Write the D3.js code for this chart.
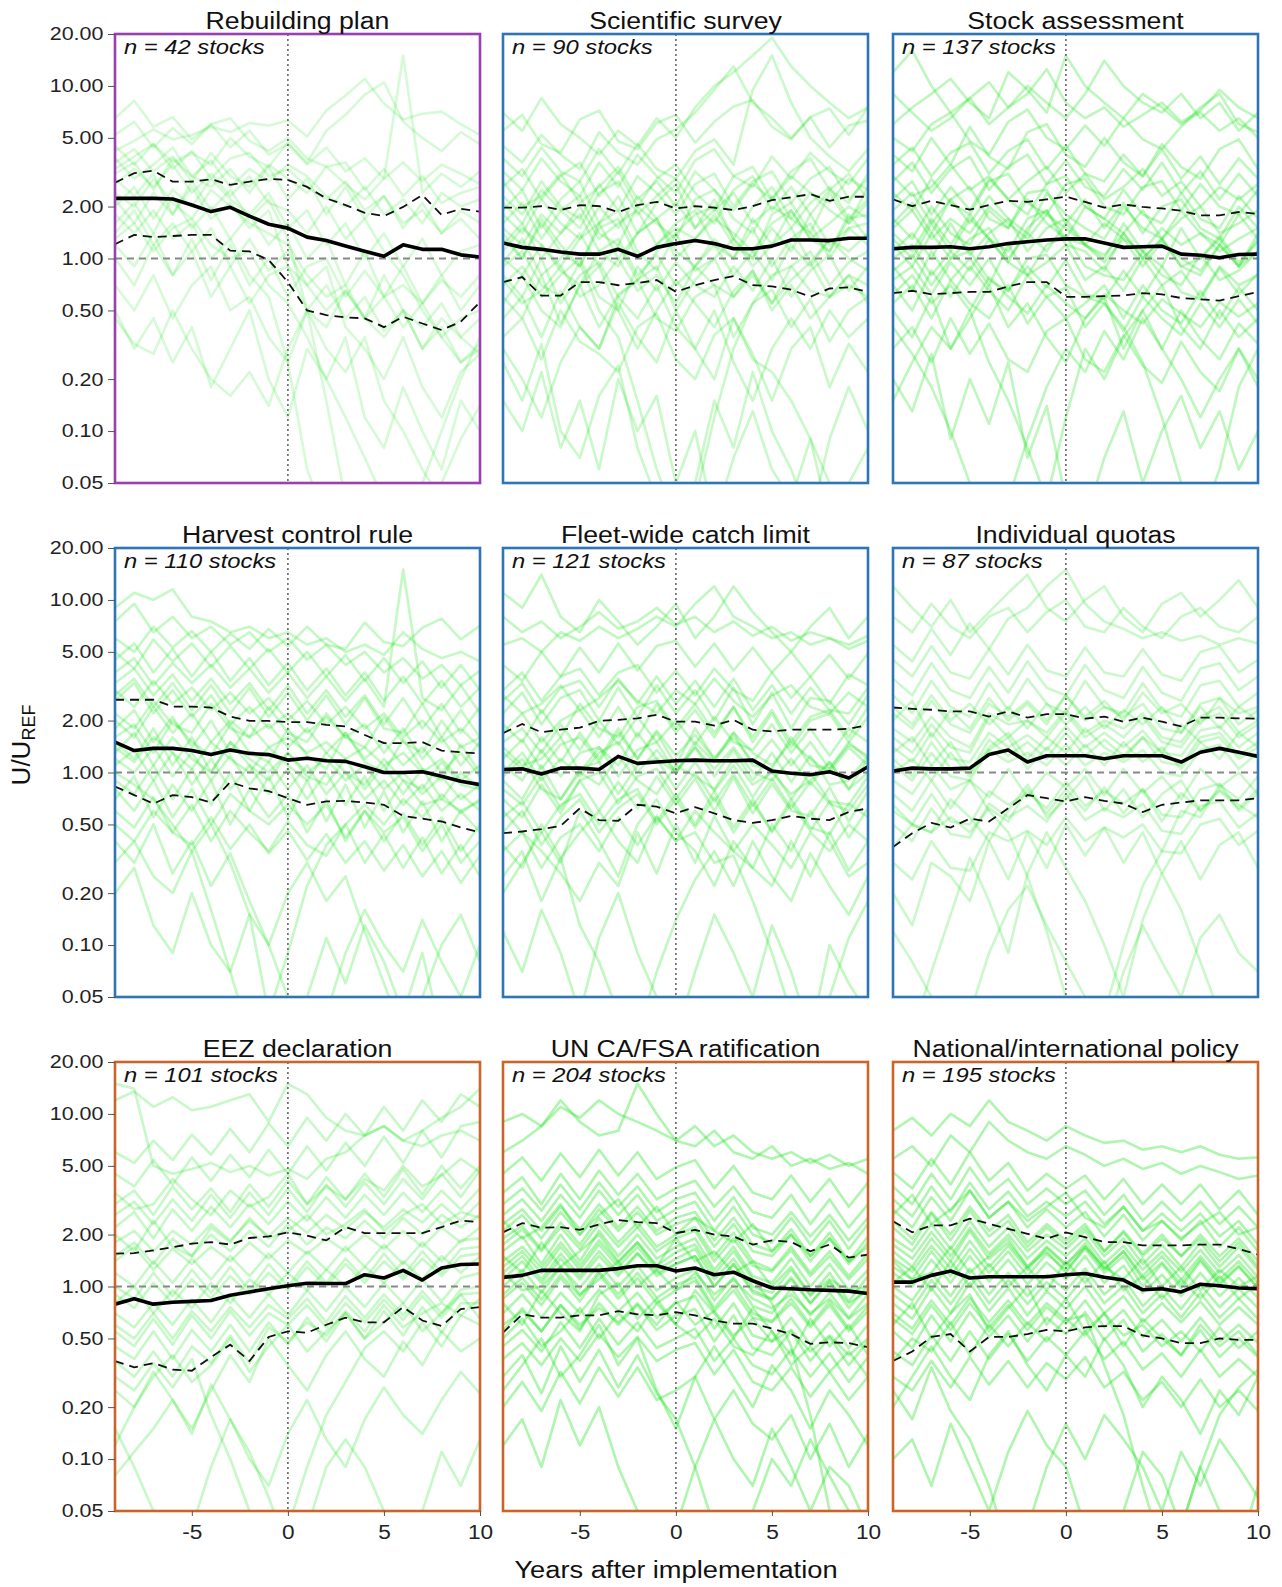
<!DOCTYPE html>
<html>
<head>
<meta charset="utf-8">
<script src="https://cdn.jsdelivr.net/npm/d3@7"></script>
<style>
  body { margin: 0; background: white; }
  text { font-family: "Liberation Sans", Arial, sans-serif; }
</style>
</head>
<body>
<div id="canvas"></div>
<script>

// Years relative to implementation and tick values
const years = [-9, -8, -7, -6, -5, -4, -3, -2, -1, 0, 1, 2, 3, 4, 5, 6, 7, 8, 9, 10];
const yTicks = [0.05, 0.1, 0.2, 0.5, 1, 2, 5, 10, 20];
const xTicks = [-5, 0, 5, 10];

// Panel titles, stock counts and frame colour group
const titles = ["Rebuilding plan", "Scientific survey", "Stock assessment",
  "Harvest control rule", "Fleet-wide catch limit", "Individual quotas",
  "EEZ declaration", "UN CA/FSA ratification", "National/international policy"];
const stockCounts = [42, 90, 137, 110, 121, 87, 101, 204, 195];
const frameGroup = ["purple", "blue", "blue", "blue", "blue", "blue", "orange", "orange", "orange"];

// Median (solid) and quantile (dashed) lines
const rebuildMedian = [2.23,2.23,2.23,2.21,2.04,1.87,1.98,1.76,1.58,1.50,1.33,1.27,1.18,1.10,1.03,1.20,1.13,1.13,1.05,1.02];
const rebuildUpper  = [2.75,3.12,3.23,2.79,2.79,2.88,2.67,2.79,2.89,2.85,2.60,2.23,2.04,1.84,1.76,1.99,2.33,1.79,1.94,1.87];
const rebuildLower  = [1.21,1.37,1.33,1.35,1.37,1.37,1.11,1.10,0.98,0.73,0.50,0.47,0.456,0.45,0.40,0.46,0.42,0.385,0.43,0.56];

const surveyMedian = [1.23,1.16,1.13,1.09,1.06,1.06,1.13,1.03,1.16,1.22,1.27,1.22,1.14,1.14,1.18,1.28,1.28,1.27,1.31,1.31];
const surveyUpper  = [1.97,1.97,2.01,1.91,2.04,2.01,1.86,2.04,2.13,1.95,2.01,1.97,1.91,2.01,2.18,2.26,2.36,2.16,2.28,2.28];
const surveyLower  = [0.73,0.78,0.61,0.61,0.73,0.73,0.70,0.72,0.75,0.64,0.70,0.75,0.79,0.70,0.69,0.66,0.60,0.67,0.68,0.64];

const assessMedian = [1.14,1.16,1.16,1.17,1.14,1.17,1.22,1.25,1.28,1.30,1.30,1.23,1.16,1.17,1.18,1.06,1.045,1.01,1.055,1.06];
const assessUpper  = [2.20,2.01,2.16,2.04,1.92,2.04,2.16,2.13,2.20,2.28,2.13,1.97,2.06,1.99,1.95,1.89,1.78,1.78,1.86,1.81];
const assessLower  = [0.63,0.65,0.62,0.63,0.64,0.64,0.69,0.73,0.73,0.60,0.60,0.605,0.61,0.63,0.62,0.59,0.58,0.57,0.605,0.64];

const hcrMedian = [1.50,1.34,1.38,1.38,1.34,1.27,1.35,1.29,1.27,1.18,1.21,1.17,1.16,1.08,1.00,1.00,1.01,0.95,0.89,0.85];
const hcrUpper  = [2.64,2.64,2.64,2.41,2.41,2.38,2.11,1.99,1.99,1.96,1.96,1.89,1.85,1.65,1.48,1.48,1.50,1.34,1.31,1.29];
const hcrLower  = [0.83,0.74,0.66,0.74,0.72,0.67,0.88,0.81,0.78,0.71,0.65,0.68,0.685,0.67,0.65,0.56,0.54,0.52,0.48,0.45];

const fleetMedian = [1.04,1.05,0.98,1.06,1.06,1.04,1.24,1.13,1.15,1.17,1.18,1.17,1.17,1.18,1.02,0.99,0.97,1.01,0.93,1.08];
const fleetUpper  = [1.69,1.91,1.71,1.77,1.82,1.99,2.02,2.06,2.16,1.97,1.97,1.87,2.02,1.77,1.73,1.77,1.77,1.77,1.79,1.89];
const fleetLower  = [0.445,0.455,0.47,0.49,0.62,0.53,0.525,0.65,0.635,0.58,0.63,0.58,0.53,0.51,0.53,0.56,0.54,0.53,0.59,0.62];

const iqMedian = [1.02,1.06,1.05,1.05,1.06,1.27,1.35,1.15,1.25,1.25,1.25,1.20,1.25,1.25,1.25,1.15,1.31,1.38,1.31,1.24];
const iqUpper  = [2.38,2.34,2.31,2.26,2.26,2.11,2.26,2.08,2.18,2.18,2.05,2.11,1.97,2.08,1.97,1.85,2.08,2.08,2.06,2.05];
const iqLower  = [0.37,0.445,0.51,0.48,0.54,0.52,0.62,0.74,0.71,0.68,0.72,0.685,0.66,0.59,0.65,0.67,0.69,0.69,0.69,0.71];

const eezMedian = [0.79,0.85,0.79,0.81,0.82,0.83,0.89,0.93,0.97,1.01,1.045,1.04,1.04,1.17,1.12,1.24,1.09,1.28,1.34,1.35];
const eezUpper  = [1.55,1.56,1.62,1.69,1.77,1.81,1.75,1.91,1.95,2.06,1.97,1.85,2.21,2.04,2.04,2.04,2.04,2.21,2.41,2.36];
const eezLower  = [0.37,0.34,0.36,0.33,0.325,0.39,0.46,0.37,0.51,0.55,0.54,0.60,0.66,0.62,0.62,0.76,0.635,0.59,0.74,0.76];

const unMedian = [1.13,1.16,1.24,1.24,1.24,1.24,1.27,1.32,1.32,1.23,1.28,1.17,1.21,1.08,0.98,0.97,0.957,0.95,0.94,0.91];
const unUpper  = [2.06,2.33,2.19,2.21,2.13,2.29,2.43,2.36,2.33,2.04,2.13,2.00,1.95,1.75,1.85,1.81,1.60,1.75,1.47,1.53];
const unLower  = [0.54,0.69,0.66,0.66,0.68,0.68,0.72,0.69,0.68,0.71,0.68,0.635,0.61,0.61,0.57,0.53,0.465,0.475,0.47,0.445];

const policyMedian = [1.06,1.06,1.16,1.23,1.12,1.14,1.14,1.14,1.14,1.17,1.19,1.13,1.09,0.957,0.97,0.93,1.03,1.01,0.98,0.97];
const policyUpper  = [2.39,2.06,2.26,2.26,2.47,2.31,2.16,2.02,1.89,2.06,1.93,1.81,1.81,1.73,1.73,1.73,1.75,1.75,1.65,1.53];
const policyLower  = [0.37,0.42,0.51,0.53,0.42,0.51,0.51,0.53,0.56,0.55,0.58,0.59,0.59,0.52,0.50,0.47,0.47,0.50,0.49,0.49];

// Individual stock trajectories (faint green), estimated by eye, one string per stock
const rebuildStocks = [
  "4.2 4.8 5.6 4.9 5.2 5.8 5.4 6.1 5.9 6.3 5.1 7.2 8.8 11 7.9 6.4 6.9 7.1 6.0 5.2",
  "3.1 3.6 2.5 3.8 3.0 2.6 3.3 2.4 3.4 2.2 2.9 1.8 2.6 1.7 2.3 1.5 2.1 1.4 1.9 1.6",
  "2.4 2.0 2.9 2.1 1.7 2.5 2.0 1.6 1.4 1.2 0.8 0.6 0.7 0.45 0.6 0.4 0.55 0.35 0.45 0.5",
  "1.8 1.4 1.9 1.3 1.6 1.0 1.3 0.8 0.6 0.25 0.06 0.03 0.03 0.03 0.03 0.03 0.03 0.03 0.03 0.03",
  "0.5 0.3 0.45 0.25 0.4 0.18 0.3 0.5 0.2 0.12 0.3 0.2 0.35 0.12 0.08 0.18 0.1 0.06 0.15 0.1",
  "3.6 4.3 3.2 3.9 2.8 4.1 3.0 2.6 3.5 2.9 2.4 3.4 2.7 2.2 2.9 15 2.4 3.1 2.6 3.2",
  "2.0 2.6 1.7 2.5 2.0 2.9 2.2 1.8 2.4 1.5 1.9 1.2 1.6 1.0 1.4 0.9 1.3 0.8 1.1 1.2",
  "1.0 0.7 1.2 0.8 1.1 0.6 0.9 0.55 0.8 0.9 0.5 0.4 0.65 0.45 0.35 0.5 0.4 0.55 0.35 0.45",
  "6.5 8.2 5.8 6.6 4.9 6.0 4.4 5.5 4.0 4.6 3.5 4.4 3.2 3.8 2.9 3.6 2.8 3.5 3.1 2.7",
  "2.7 3.3 2.6 3.5 2.4 3.1 2.3 3.0 2.1 1.9 1.4 2.0 1.3 1.7 1.1 0.8 0.5 0.35 0.25 0.3",
  "1.3 1.6 1.1 1.5 1.7 1.2 1.0 1.1 0.7 0.55 0.35 0.2 0.12 0.07 0.04 0.03 0.03 0.05 0.09 0.14",
  "4.5 3.5 4.6 3.3 4.2 2.9 3.8 4.1 3.0 3.3 2.6 2.2 2.8 1.9 2.3 1.6 1.9 1.4 1.7 1.3",
  "1.6 2.1 1.4 2.3 1.5 2.0 1.3 1.8 1.2 1.6 1.0 1.3 0.7 1.1 0.6 0.9 0.55 0.8 0.5 0.7",
  "2.9 2.3 3.1 1.8 2.6 1.7 2.1 1.5 1.9 0.9 0.7 0.9 0.4 0.3 0.2 0.35 0.18 0.12 0.22 0.28",
  "0.7 0.5 0.8 0.45 0.7 0.9 0.5 0.6 0.35 0.25 0.5 0.3 0.22 0.35 0.15 0.1 0.06 0.04 0.03 0.03",
  "3.3 3.9 4.6 3.6 4.1 3.5 5.0 3.9 3.4 4.7 3.6 5.5 6.8 8.9 10.5 6.2 5.0 4.2 5.4 4.6",
  "1.2 0.9 1.4 0.8 1.3 0.75 1.2 0.7 1.0 0.6 0.9 1.0 0.6 0.85 0.6 0.7 0.55 0.75 0.6 0.8",
  "5.2 6.2 4.4 5.7 4.6 6.0 6.5 4.8 4.2 5.0 3.8 3.4 3.6 2.5 3.3 2.3 3.0 2.1 2.4 2.6",
  "0.45 0.32 0.28 0.5 0.3 0.2 0.16 0.22 0.14 0.3 0.5 0.7 0.45 0.6 0.38 0.5 0.3 0.45 0.35 0.28",
  "2.2 1.6 2.4 1.8 2.8 1.9 2.5 1.7 2.2 1.3 0.5 0.15 0.04 0.03 0.03 0.03 0.05 0.1 0.2 0.35",
  "3.8 2.9 3.5 4.4 3.0 3.7 2.6 3.3 2.8 3.5 3.0 2.3 2.0 2.6 1.8 2.2 1.6 2.4 2.0 2.2",
  "1.4 1.9 1.2 1.6 1.1 1.5 0.9 1.3 0.85 1.1 0.7 0.5 0.65 0.45 0.8 0.5 0.3 0.4 0.25 0.32"
];

const surveyStocks = [
  "1.2 1.6 1.0 1.4 1.8 1.1 0.9 1.4 1.7 1.0 1.3 1.8 1.2 1.0 1.5 1.1 1.8 1.2 1.5 1.6",
  "2.1 1.6 2.5 1.9 1.5 2.4 2.8 1.8 2.3 2.9 2.0 1.6 2.5 3.0 1.9 2.6 1.8 2.5 3.1 2.2",
  "0.8 0.6 1.0 0.55 0.8 0.95 0.6 0.75 0.9 0.5 0.75 1.0 0.6 0.8 0.55 0.9 0.65 0.6 0.8 0.7",
  "3.2 2.5 3.8 2.8 2.3 3.6 2.6 4.0 3.0 2.4 3.7 4.3 3.0 2.6 3.9 2.9 4.1 3.2 2.7 3.8",
  "0.45 0.6 0.35 0.65 0.4 0.3 0.55 0.35 0.25 0.5 0.3 0.2 0.45 0.28 0.15 0.3 0.4 0.18 0.32 0.22",
  "1.6 2.1 1.3 1.9 2.3 1.4 1.2 2.0 1.6 1.3 2.2 2.5 1.7 1.4 2.3 1.5 2.1 2.6 1.7 2.2",
  "1.0 0.8 1.2 0.85 0.7 1.1 1.3 0.8 1.05 0.7 0.9 1.2 0.8 1.1 0.75 1.2 0.9 1.3 1.0 0.85",
  "4.5 3.6 5.2 4.0 3.3 5.4 4.1 3.5 4.9 5.6 7.0 9.5 13 8.0 6.5 5.0 6.6 4.4 5.9 6.3",
  "0.25 0.15 0.32 0.1 0.07 0.16 0.24 0.08 0.04 0.03 0.05 0.15 0.08 0.22 0.1 0.06 0.03 0.09 0.18 0.1",
  "2.6 3.3 2.2 3.0 3.6 2.3 3.2 2.0 2.9 3.5 2.4 1.9 3.0 3.4 2.2 3.2 3.8 2.5 2.1 3.1",
  "1.4 1.0 1.7 1.2 0.9 1.6 1.9 1.1 0.85 1.4 1.8 2.0 1.3 1.0 1.8 2.1 1.4 1.1 1.8 1.3",
  "0.6 0.45 0.8 0.42 0.7 0.4 0.62 0.75 0.45 0.38 0.6 0.7 0.35 0.55 0.66 0.4 0.58 0.33 0.5 0.6",
  "5.5 6.8 4.6 4.1 6.4 7.2 4.8 4.3 6.1 6.8 4.7 6.2 7.6 8.3 5.8 4.9 6.6 7.4 5.2 7.5",
  "1.9 2.5 1.5 2.2 2.8 1.6 2.3 1.4 2.1 2.7 1.5 2.2 1.3 2.0 2.6 1.7 1.4 2.4 1.6 2.6",
  "0.9 1.1 0.7 0.6 0.95 0.5 0.35 0.15 0.06 0.03 0.04 0.12 0.3 0.55 0.8 0.9 1.1 0.7 0.95 1.1",
  "1.1 1.5 1.2 0.9 1.3 1.6 1.0 1.4 1.7 1.1 0.9 1.3 1.0 1.5 0.9 1.3 1.6 1.0 1.5 1.2",
  "3.8 3.0 4.4 3.2 2.8 4.3 3.1 4.6 3.3 2.9 4.2 4.9 3.5 9.5 15 8.0 5.0 3.9 3.2 4.3",
  "0.35 0.45 0.26 0.5 0.33 0.28 0.22 0.4 0.48 0.26 0.2 0.36 0.45 0.26 0.22 0.15 0.09 0.05 0.03 0.03",
  "2.3 1.8 2.8 2.0 1.7 2.7 1.9 3.0 2.4 1.8 2.7 3.1 2.0 2.8 3.2 2.1 2.9 3.4 2.2 2.9",
  "0.7 0.9 0.6 0.8 1.0 0.6 0.5 0.9 0.65 0.95 0.7 0.6 0.9 0.65 1.0 0.6 0.85 1.05 0.65 0.9",
  "1.3 1.0 1.6 1.1 0.9 1.5 1.7 1.0 1.2 1.6 1.9 1.2 1.0 1.7 1.2 1.9 1.3 1.1 1.7 1.8",
  "0.15 0.1 0.22 0.08 0.15 0.06 0.2 0.1 0.16 0.05 0.1 0.03 0.07 0.13 0.06 0.04 0.09 0.03 0.05 0.08",
  "1.5 1.2 1.8 1.4 2.0 1.3 1.6 1.9 1.2 1.5 1.3 1.7 1.4 1.1 1.6 1.9 1.3 1.6 2.0 1.7",
  "0.55 0.8 0.5 0.4 0.7 0.9 0.5 0.3 0.5 0.75 0.55 0.4 0.65 0.85 0.5 0.7 0.45 0.6 0.8 0.55",
  "2.8 2.0 2.3 3.1 2.1 2.6 3.4 2.2 2.8 2.0 3.2 2.5 1.9 2.7 2.2 3.0 2.4 2.1 2.9 2.5",
  "0.95 1.3 0.8 1.0 1.4 0.9 1.2 0.75 1.1 1.4 0.85 1.0 1.3 0.9 1.2 1.5 0.95 1.3 1.1 1.4",
  "0.3 0.2 0.12 0.25 0.4 0.3 0.6 0.45 0.7 0.4 0.3 0.5 0.25 0.15 0.3 0.45 0.3 0.5 0.35 0.45",
  "1.8 1.4 2.2 1.6 1.3 2.0 1.5 2.3 1.7 2.1 1.5 1.9 2.4 1.6 2.0 1.7 2.4 1.9 1.6 2.1",
  "7.0 5.5 8.5 6.0 5.0 4.0 5.5 4.5 6.5 5.0 7.5 10 12 15 19 13 10 8.0 6.5 7.5",
  "0.75 0.55 0.65 0.9 0.6 0.7 1.0 0.65 0.8 0.55 0.9 0.7 0.6 0.85 0.55 0.75 0.95 0.6 0.7 0.6"
];

const assessStocks = [
  "1.3 1.0 1.6 1.1 1.7 1.3 0.95 1.5 1.9 1.2 1.1 0.85 1.4 1.0 1.3 0.9 0.8 1.2 0.9 1.3",
  "2.2 2.8 1.8 2.6 1.9 2.9 2.2 1.8 2.7 3.0 2.0 1.7 2.5 1.8 1.6 2.4 1.7 1.5 2.3 1.7",
  "0.7 0.5 0.85 0.6 0.9 0.65 0.5 0.8 0.6 0.45 0.55 0.7 0.45 0.7 0.5 0.42 0.65 0.45 0.68 0.5",
  "4.0 3.2 5.0 3.5 5.8 3.9 3.3 5.4 6.0 4.0 3.4 5.0 3.6 3.0 4.6 3.4 2.9 4.3 4.9 3.3",
  "0.4 0.28 0.18 0.1 0.05 0.03 0.04 0.09 0.18 0.3 0.22 0.38 0.26 0.45 0.3 0.5 0.34 0.26 0.42 0.32",
  "1.6 2.1 1.4 2.2 1.6 2.3 1.7 1.4 2.4 1.8 1.5 1.3 2.0 1.5 1.3 1.9 1.4 1.2 1.8 1.3",
  "1.0 1.2 0.8 1.1 0.85 1.3 0.95 0.8 1.2 1.35 0.9 0.8 0.75 1.1 0.8 0.7 1.05 0.75 0.85 1.1",
  "6.0 7.5 9.0 11 8.0 6.5 12 9.5 7.0 15 10 8.0 6.5 9.0 7.5 6.0 7.0 5.5 6.5 5.0",
  "0.2 0.13 0.28 0.09 0.2 0.11 0.25 0.07 0.14 0.04 0.03 0.07 0.13 0.05 0.1 0.16 0.08 0.13 0.06 0.1",
  "2.8 3.6 2.4 3.3 3.9 2.5 3.4 4.0 2.7 3.7 2.6 2.3 3.3 2.5 3.6 2.4 3.2 2.2 3.1 2.3",
  "1.4 1.1 1.7 1.2 1.8 1.3 1.1 1.7 1.9 1.3 1.2 1.0 1.6 1.1 0.9 1.5 1.0 1.3 0.9 1.4",
  "0.55 0.7 0.45 0.75 0.55 0.45 0.7 0.42 0.6 0.68 0.4 0.55 0.38 0.6 0.45 0.36 0.55 0.4 0.58 0.42",
  "3.5 4.4 3.0 4.1 4.7 3.1 4.2 4.9 3.3 4.5 3.1 2.8 4.0 3.0 4.3 2.9 3.9 2.7 3.8 2.9",
  "1.9 2.4 1.6 2.2 2.6 1.7 1.5 2.4 2.5 1.6 2.2 1.5 2.1 1.4 2.0 2.2 1.5 1.3 2.0 1.5",
  "0.85 1.05 0.7 1.0 1.1 0.75 0.65 1.0 1.05 0.7 0.6 0.55 0.4 0.25 0.12 0.05 0.03 0.06 0.18 0.3",
  "1.2 0.9 1.4 1.0 1.3 1.5 1.0 1.4 1.1 1.6 1.2 0.95 1.3 0.9 1.25 1.0 0.85 1.2 0.9 1.1",
  "5.0 4.2 6.0 7.0 4.8 4.0 6.2 7.3 5.0 4.3 5.9 4.5 6.5 4.9 4.3 5.8 7.5 9.0 6.0 5.4",
  "0.3 0.4 0.25 0.45 0.28 0.42 0.26 0.22 0.38 0.45 0.26 0.22 0.36 0.24 0.19 0.33 0.22 0.17 0.3 0.2",
  "2.4 1.9 2.9 2.1 1.8 2.8 3.1 2.1 1.8 2.7 2.9 2.0 1.8 2.6 2.8 1.9 2.7 2.0 1.8 2.5",
  "0.75 0.9 0.62 0.95 0.7 1.0 0.65 0.9 0.68 0.98 0.62 0.58 0.85 0.6 0.9 0.64 0.58 0.88 0.62 0.82",
  "1.1 1.4 1.0 1.6 1.05 1.4 1.7 1.1 1.5 1.7 1.2 1.05 1.4 1.0 1.3 0.9 1.0 1.35 0.95 1.25",
  "9.0 7.0 5.5 6.5 8.5 10.5 7.5 9.0 12.5 8.0 6.5 7.5 5.8 6.8 8.0 6.2 7.2 9.5 7.5 6.5",
  "1.7 1.3 2.0 1.4 1.2 1.9 1.5 2.2 1.6 1.3 2.0 1.7 1.4 1.9 1.3 1.7 2.0 1.4 1.6 1.9",
  "0.5 0.35 0.6 0.3 0.45 0.7 0.4 0.55 0.35 0.25 0.45 0.6 0.3 0.5 0.7 0.4 0.3 0.5 0.35 0.45",
  "3.0 2.3 2.6 3.5 2.5 3.0 2.2 2.8 3.4 2.4 3.1 2.2 2.6 3.3 2.3 2.8 2.0 2.6 2.2 2.7",
  "0.9 0.65 1.1 0.75 1.0 0.7 1.2 0.8 0.95 1.2 0.75 0.9 0.65 1.0 0.7 0.85 0.6 0.9 0.7 0.8",
  "12 16 10 7.0 8.5 6.0 7.5 10 8.0 6.5 9.0 14 10 8.0 7.0 9.0 6.5 8.0 5.5 7.0",
  "0.15 0.25 0.4 0.3 0.5 0.25 0.15 0.08 0.04 0.12 0.3 0.2 0.35 0.5 0.3 0.2 0.12 0.2 0.3 0.18",
  "1.5 1.9 1.3 1.7 1.4 2.0 1.6 1.3 1.8 1.5 1.2 1.6 1.3 1.1 1.5 1.2 1.4 1.1 1.3 1.5",
  "0.62 0.8 0.55 0.7 0.5 0.78 0.6 0.48 0.7 0.55 0.45 0.62 0.5 0.42 0.58 0.48 0.4 0.56 0.46 0.55"
];

const hcrStocks = [
  "1.5 1.2 1.8 1.1 1.6 1.0 1.5 1.2 1.0 1.3 1.0 1.2 0.9 1.1 0.8 1.0 0.75 0.95 0.7 0.85",
  "2.6 3.3 2.2 3.0 2.1 2.8 1.9 2.4 1.8 2.2 1.7 2.1 1.6 1.9 1.3 1.8 1.2 1.6 1.1 1.5",
  "0.8 0.6 0.9 0.55 0.8 0.5 0.75 0.6 0.5 0.65 0.5 0.65 0.42 0.6 0.4 0.58 0.38 0.55 0.35 0.5",
  "4.5 5.6 3.8 5.2 3.6 5.0 3.4 4.6 3.2 4.3 3.0 4.0 2.8 3.8 2.6 3.6 2.5 3.4 2.4 3.1",
  "9.0 11 10 11.5 8.0 7.5 6.5 7.0 6.0 6.5 5.5 6.0 5.0 5.5 4.8 6.5 5.2 4.6 5.0 4.4",
  "1.8 2.3 1.5 2.1 1.4 2.0 1.3 1.9 1.4 1.6 1.3 1.5 1.2 1.4 1.1 1.3 1.0 1.2 0.9 1.1",
  "0.4 0.3 0.5 0.26 0.4 0.22 0.34 0.18 0.1 0.05 0.03 0.04 0.09 0.16 0.1 0.07 0.14 0.08 0.05 0.03",
  "3.3 4.0 2.8 3.7 2.6 3.5 2.5 3.3 2.3 3.2 2.2 3.0 2.1 2.8 1.9 2.7 1.8 2.5 1.7 2.4",
  "1.1 1.35 0.9 1.3 0.85 1.2 0.8 1.1 0.75 1.05 0.7 1.0 0.65 0.95 0.6 0.9 0.65 0.7 0.6 0.68",
  "6.0 5.0 7.0 5.3 6.6 5.0 6.4 5.2 6.8 5.4 7.0 5.5 5.2 7.4 5.7 5.4 6.9 7.8 5.9 7.1",
  "2.2 1.8 2.6 1.9 1.7 2.5 1.8 1.6 2.4 1.7 1.5 2.2 1.6 1.4 2.1 1.5 1.3 2.0 1.4 1.6",
  "0.6 0.48 0.72 0.45 0.65 0.4 0.6 0.45 0.35 0.52 0.38 0.33 0.5 0.3 0.44 0.28 0.42 0.26 0.38 0.25",
  "1.3 1.7 1.1 1.6 1.2 1.0 1.5 1.1 0.9 1.3 0.95 0.85 1.2 0.8 1.1 0.75 1.05 0.7 1.0 0.8",
  "0.2 0.28 0.13 0.09 0.2 0.1 0.07 0.15 0.04 0.03 0.05 0.11 0.06 0.13 0.08 0.04 0.09 0.03 0.05 0.1",
  "3.8 4.6 3.2 4.3 3.3 4.2 3.1 4.0 2.9 3.8 2.7 3.6 2.6 3.5 2.4 15 2.7 2.3 3.2 2.2",
  "1.6 1.9 1.3 2.0 1.5 1.25 1.9 1.3 1.15 1.8 1.25 1.05 1.7 1.15 1.0 1.55 1.05 0.9 1.45 1.0",
  "0.9 0.75 1.1 0.7 1.05 0.65 1.0 0.6 0.95 0.55 0.9 0.52 0.85 0.48 0.78 0.45 0.68 0.4 0.6 0.45",
  "2.8 3.5 2.4 3.3 2.3 3.2 2.2 3.1 2.1 2.9 2.0 2.8 1.9 2.7 1.8 1.7 2.5 1.6 2.3 1.6",
  "1.0 0.85 0.7 0.5 0.35 0.16 0.07 0.03 0.04 0.09 0.22 0.38 0.5 0.65 0.5 0.7 0.55 0.75 0.58 0.7",
  "1.4 1.15 1.6 1.3 1.05 1.5 1.2 1.0 1.4 1.1 0.9 1.3 1.0 0.85 1.2 0.9 0.8 1.15 0.85 0.8",
  "5.0 4.0 5.9 4.4 5.6 4.1 5.4 4.0 5.2 3.8 5.0 3.6 4.8 3.4 4.6 3.3 4.4 3.1 4.2 3.0",
  "0.5 0.4 0.6 0.45 0.38 0.55 0.36 0.5 0.34 0.46 0.31 0.44 0.3 0.4 0.27 0.38 0.25 0.35 0.23 0.33",
  "2.0 1.6 2.4 1.7 2.2 1.5 2.0 1.6 1.9 1.4 1.8 1.3 1.7 1.2 1.5 1.1 1.4 1.0 1.3 0.95",
  "0.7 0.95 0.55 0.85 0.6 0.9 0.5 0.8 0.55 0.75 0.45 0.7 0.4 0.6 0.45 0.55 0.35 0.5 0.3 0.4",
  "3.0 2.4 3.4 2.5 3.1 2.3 2.9 2.2 2.7 2.0 2.6 1.9 2.4 1.8 2.2 1.6 2.0 1.5 1.8 1.4",
  "0.3 0.4 0.25 0.2 0.35 0.5 0.3 0.15 0.1 0.2 0.3 0.18 0.25 0.12 0.06 0.03 0.05 0.1 0.15 0.08",
  "7.5 9.5 6.5 8.0 6.0 7.0 5.5 6.5 5.0 6.0 4.5 5.5 4.2 5.0 3.8 4.6 3.5 4.2 3.2 3.9",
  "1.2 1.0 1.4 0.95 1.3 0.9 1.25 0.85 1.15 0.8 1.1 0.75 1.0 0.7 0.9 0.65 0.85 0.6 0.75 0.6"
];

const fleetStocks = [
  "1.0 1.3 0.9 1.2 0.95 1.3 1.5 1.0 1.35 1.0 1.4 1.05 1.4 1.0 0.9 1.2 0.85 1.15 0.8 1.2",
  "1.7 2.2 1.5 2.0 2.3 1.6 2.4 1.6 2.5 1.7 2.3 1.6 2.4 1.5 2.2 1.4 2.0 2.2 1.5 2.1",
  "0.45 0.6 0.38 0.55 0.7 0.45 0.62 0.75 0.5 0.7 0.48 0.72 0.45 0.66 0.46 0.7 0.48 0.44 0.66 0.55",
  "3.0 3.8 2.6 3.6 4.0 2.8 3.8 4.2 2.9 3.9 2.8 4.0 3.0 2.6 3.8 2.7 3.6 2.5 3.7 3.2",
  "0.7 0.55 0.85 0.58 0.9 0.6 0.88 0.62 0.95 0.65 0.92 0.6 0.94 0.58 0.86 0.6 0.56 0.82 0.52 0.78",
  "5.5 6.0 5.0 6.5 5.8 7.0 6.0 6.8 8.0 7.0 9.5 12 8.0 7.0 6.0 6.5 5.5 6.0 5.2 5.8",
  "1.3 1.05 1.6 1.15 1.7 1.2 1.8 1.2 1.7 1.1 1.8 1.2 1.7 1.1 1.05 1.6 1.1 1.05 1.5 1.2",
  "0.25 0.35 0.18 0.32 0.13 0.08 0.04 0.03 0.07 0.14 0.24 0.35 0.22 0.4 0.25 0.18 0.34 0.22 0.15 0.25",
  "2.2 2.9 1.9 2.7 3.0 2.0 3.1 2.1 3.2 2.2 3.0 2.0 3.1 1.9 2.9 1.8 2.7 2.6 1.9 2.8",
  "0.9 0.7 1.1 0.7 1.05 1.15 0.75 1.1 1.2 0.8 1.15 0.78 1.1 0.72 1.05 0.7 1.0 0.68 0.65 0.95",
  "4.2 3.4 5.0 3.6 5.3 3.8 5.6 3.9 5.4 5.8 4.1 5.6 3.9 5.3 3.8 5.0 3.6 4.8 3.5 4.9",
  "0.12 0.07 0.16 0.09 0.04 0.11 0.2 0.09 0.05 0.03 0.07 0.15 0.09 0.05 0.13 0.07 0.03 0.1 0.06 0.04",
  "1.5 1.8 1.3 1.9 1.35 2.0 1.45 2.1 1.5 2.0 1.45 2.1 1.5 1.35 1.9 1.3 1.8 1.25 1.8 1.5",
  "0.55 0.68 0.45 0.65 0.75 0.5 0.7 0.8 0.52 0.75 0.5 0.78 0.48 0.7 0.45 0.66 0.46 0.68 0.42 0.62",
  "1.1 0.9 1.35 0.95 1.3 1.4 0.95 1.35 1.5 1.0 1.4 0.95 1.35 0.9 1.3 0.88 1.25 0.85 0.9 1.25",
  "8.0 6.5 7.5 6.0 7.0 8.5 6.8 7.5 9.0 7.2 8.0 6.5 7.5 6.2 7.0 5.8 6.5 6.0 5.5 6.2",
  "2.6 3.3 2.2 3.1 3.4 2.4 3.5 2.5 3.6 2.5 3.4 2.4 3.5 2.3 3.2 2.2 3.1 2.3 2.2 3.1",
  "0.35 0.45 0.28 0.42 0.5 0.35 0.55 0.38 0.56 0.4 0.45 0.3 0.33 0.18 0.09 0.04 0.03 0.05 0.11 0.18",
  "1.2 1.55 1.05 1.45 1.6 1.15 1.7 1.2 1.75 1.25 1.65 1.2 1.6 1.15 1.55 1.1 1.5 1.05 1.45 1.25",
  "0.8 0.65 0.95 0.62 0.9 1.0 0.66 0.95 1.05 0.7 1.0 0.68 0.98 0.64 0.92 0.62 0.88 0.66 0.6 0.85",
  "1.9 1.5 2.3 1.6 2.5 1.8 1.6 2.4 2.6 1.8 2.5 1.7 2.4 1.6 2.3 1.5 2.1 2.3 1.6 2.4",
  "0.6 0.45 0.35 0.26 0.18 0.3 0.22 0.45 0.26 0.5 0.3 0.56 0.35 0.28 0.22 0.4 0.25 0.45 0.27 0.4",
  "1.4 1.1 1.2 1.6 1.0 1.4 1.1 1.7 1.2 1.0 1.5 1.15 1.7 1.3 1.1 1.5 1.2 1.0 1.4 1.1",
  "0.38 0.28 0.5 0.32 0.45 0.6 0.4 0.3 0.55 0.4 0.6 0.45 0.35 0.5 0.38 0.28 0.45 0.35 0.5 0.4",
  "2.8 2.2 2.5 3.2 2.3 2.7 3.4 2.6 2.2 3.0 2.5 3.5 2.6 2.1 2.8 3.2 2.4 2.2 2.9 2.4",
  "0.2 0.3 0.45 0.3 0.6 0.4 0.25 0.5 0.7 0.45 0.35 0.22 0.4 0.28 0.5 0.35 0.6 0.4 0.25 0.3",
  "11 9.0 14 8.0 6.5 10 7.5 5.5 7.0 9.5 6.0 8.0 12 8.5 6.5 5.0 7.0 9.0 6.0 8.0",
  "0.95 1.2 0.8 0.7 1.0 0.85 1.25 0.9 0.75 1.1 0.95 0.8 1.2 0.85 1.0 0.75 0.9 1.15 0.8 1.0"
];

const iqStocks = [
  "1.0 1.2 0.9 1.3 0.95 1.35 1.6 1.05 1.4 1.1 1.45 1.1 1.5 1.15 1.4 1.05 1.5 1.6 1.2 1.4",
  "2.4 1.9 2.8 2.0 2.5 1.9 2.4 1.8 2.5 1.9 2.4 1.8 2.3 1.9 2.4 1.7 2.4 1.8 2.4 2.0",
  "0.37 0.5 0.45 0.55 0.45 0.62 0.52 0.8 0.58 0.8 0.6 0.82 0.58 0.8 0.52 0.76 0.6 0.78 0.62 0.8",
  "3.5 2.8 4.3 3.0 2.7 4.1 2.9 4.4 3.1 2.8 4.2 3.0 2.7 4.1 2.9 2.6 4.0 4.3 3.0 3.6",
  "0.2 0.13 0.3 0.25 0.18 0.4 0.24 0.45 0.28 0.5 0.33 0.48 0.3 0.45 0.26 0.4 0.24 0.38 0.45 0.28",
  "1.6 1.3 1.9 1.4 1.3 2.1 1.6 2.0 1.6 2.2 1.6 1.9 1.6 2.1 1.5 1.4 2.0 2.2 1.6 1.9",
  "0.75 0.6 0.9 0.62 0.9 0.72 1.05 0.72 1.0 0.82 1.05 0.74 1.05 0.76 0.95 0.7 1.05 0.82 1.0 0.75",
  "5.5 4.4 6.8 4.8 7.3 5.2 7.8 9.0 12 15 9.5 7.5 6.8 6.0 6.5 5.8 6.2 5.5 6.0 5.6",
  "0.12 0.08 0.05 0.03 0.04 0.09 0.16 0.22 0.13 0.08 0.05 0.03 0.07 0.13 0.08 0.05 0.11 0.15 0.09 0.07",
  "2.8 2.2 3.4 2.4 2.1 3.3 2.3 3.5 2.5 2.2 3.4 2.4 2.2 3.3 2.3 2.1 3.2 3.4 2.4 2.9",
  "1.2 0.95 1.5 1.05 1.0 1.55 1.25 1.5 1.2 1.7 1.25 1.55 1.25 1.6 1.15 1.1 1.6 1.7 1.25 1.5",
  "0.5 0.4 0.62 0.44 0.42 0.66 0.55 0.64 0.52 0.75 0.53 0.62 0.55 0.66 0.46 0.44 0.64 0.68 0.48 0.58",
  "4.5 3.6 5.4 3.8 3.5 5.2 3.7 5.5 3.9 3.6 5.3 3.8 3.6 5.2 3.7 3.4 5.0 5.4 3.8 4.5",
  "1.8 1.5 2.1 1.6 1.4 2.2 1.9 2.0 1.7 2.3 1.7 2.0 1.8 2.2 1.6 1.5 2.1 2.4 1.7 2.0",
  "0.9 0.75 1.1 0.8 0.9 0.6 0.45 0.25 0.12 0.05 0.03 0.04 0.1 0.22 0.35 0.6 0.55 0.85 0.7 0.95",
  "1.4 1.15 1.7 1.2 1.15 1.7 1.4 1.65 1.35 1.85 1.4 1.7 1.4 1.75 1.3 1.25 1.75 1.85 1.4 1.7",
  "8.0 6.5 9.5 7.0 6.0 8.0 9.0 6.5 8.5 10 7.0 6.5 9.0 7.0 6.0 8.0 9.0 7.0 6.5 8.0",
  "0.3 0.24 0.4 0.28 0.27 0.45 0.4 0.46 0.38 0.55 0.4 0.48 0.42 0.5 0.35 0.34 0.5 0.54 0.38 0.46",
  "2.2 1.8 2.6 1.9 1.7 2.5 2.1 2.6 2.0 2.8 2.0 2.4 2.1 2.5 1.8 1.7 2.5 2.7 1.9 2.3",
  "0.6 0.5 0.75 0.52 0.5 0.78 0.65 0.76 0.62 0.88 0.64 0.78 0.66 0.8 0.57 0.55 0.8 0.86 0.6 0.76",
  "1.1 0.9 1.3 0.95 0.9 1.35 1.15 1.3 1.1 1.45 1.1 1.3 1.15 1.35 1.0 0.95 1.35 1.45 1.05 1.3",
  "0.04 0.03 0.07 0.15 0.32 0.18 0.09 0.26 0.45 0.28 0.18 0.1 0.05 0.14 0.26 0.16 0.08 0.04 0.03 0.03",
  "2.0 2.6 1.6 2.3 1.8 2.7 2.0 2.5 1.9 2.8 2.1 2.6 2.0 2.9 2.2 2.5 1.9 2.7 2.2 2.4",
  "0.65 0.5 0.45 0.7 0.55 0.4 0.6 0.85 0.55 0.7 0.95 0.6 0.8 0.55 0.75 0.9 0.6 0.8 0.65 0.55",
  "12 9.0 7.0 10 6.5 8.5 11 14 9.0 7.5 10 12 8.0 6.5 9.5 11 8.0 10 13 9.0",
  "1.3 1.6 1.1 1.5 1.0 1.4 1.7 1.2 1.6 1.3 1.8 1.4 1.2 1.6 1.3 1.9 1.5 1.2 1.7 1.4"
];

const eezStocks = [
  "0.8 1.0 0.7 0.95 0.75 1.05 0.8 1.1 0.9 1.2 0.95 1.25 1.0 1.3 1.05 1.4 1.1 1.5 1.2 1.5",
  "1.5 1.8 1.35 1.9 1.5 2.0 1.6 2.1 1.7 2.3 1.75 2.2 1.9 2.4 1.9 2.5 2.0 2.6 2.2 2.6",
  "0.37 0.3 0.42 0.3 0.45 0.36 0.52 0.36 0.58 0.48 0.62 0.52 0.72 0.55 0.78 0.58 0.7 0.8 0.68 0.85",
  "3.0 3.6 2.6 3.8 2.8 3.7 2.7 3.9 2.9 4.1 3.0 4.3 3.2 4.5 3.3 4.8 3.4 5.0 3.7 5.0",
  "15 14 5.0 4.5 4.8 5.2 4.6 5.0 4.4 4.8 4.2 5.5 6.0 7.5 8.5 7.0 8.0 9.5 11 14",
  "1.2 1.0 1.4 1.05 1.45 1.1 1.5 1.15 1.55 1.2 1.6 1.25 1.7 1.3 1.75 1.35 1.8 1.4 1.85 1.9",
  "0.6 0.5 0.7 0.5 0.72 0.55 0.76 0.58 0.78 0.65 0.85 0.62 0.88 0.66 0.9 0.68 0.94 0.7 0.96 1.0",
  "12 13.5 11 12.5 10.5 11 12 13 9.0 15 13 9.5 8.0 7.5 8.5 7.0 6.5 7.5 8.0 7.0",
  "0.15 0.09 0.05 0.03 0.04 0.09 0.17 0.1 0.07 0.14 0.22 0.13 0.09 0.17 0.26 0.18 0.14 0.22 0.32 0.24",
  "2.2 2.7 1.9 2.8 2.1 2.9 2.2 3.0 2.3 3.1 2.4 3.3 2.5 3.4 2.6 3.5 2.7 3.6 2.8 3.7",
  "1.0 0.85 1.2 0.88 1.25 0.92 1.3 0.95 1.35 1.0 1.4 1.05 1.45 1.1 1.55 1.15 1.6 1.2 1.65 1.7",
  "0.45 0.38 0.55 0.38 0.56 0.42 0.6 0.42 0.62 0.46 0.66 0.48 0.7 0.5 0.72 0.52 0.76 0.54 0.8 0.8",
  "4.5 3.8 5.4 3.9 5.6 4.1 5.8 4.3 6.2 4.5 6.5 4.7 6.8 5.0 7.4 5.2 8.0 5.6 8.5 9.0",
  "1.8 2.1 1.6 2.1 1.75 2.3 1.85 2.4 1.95 2.5 2.05 2.6 2.15 2.7 2.2 2.8 2.35 3.0 2.4 3.1",
  "0.3 0.25 0.36 0.26 0.38 0.18 0.1 0.05 0.03 0.04 0.09 0.18 0.28 0.44 0.55 0.42 0.62 0.45 0.68 0.6",
  "0.9 0.75 1.05 0.8 1.1 0.85 1.15 0.9 1.2 0.95 1.3 1.0 1.35 1.05 1.4 1.1 1.45 1.15 1.5 1.55",
  "2.6 3.1 2.3 3.2 2.4 3.4 2.5 3.5 2.6 3.7 2.7 3.9 2.9 4.0 3.0 4.2 3.2 4.5 3.3 4.7",
  "0.7 0.58 0.8 0.6 0.84 0.62 0.88 0.66 0.9 0.68 0.95 0.72 1.0 0.76 1.05 0.8 1.1 0.82 1.12 1.2",
  "0.08 0.11 0.15 0.22 0.14 0.27 0.17 0.11 0.06 0.03 0.04 0.09 0.13 0.09 0.05 0.03 0.05 0.11 0.07 0.13",
  "1.4 1.7 1.25 1.65 1.35 1.7 1.4 1.8 1.45 1.85 1.55 1.9 1.6 2.0 1.65 2.1 1.7 2.2 1.8 2.2",
  "6.0 5.2 7.0 5.4 7.6 5.8 8.2 6.0 8.8 6.5 9.5 7.0 10 7.5 11 8.0 12 9.0 13 11",
  "0.55 0.45 0.65 0.46 0.68 0.5 0.72 0.52 0.7 0.6 0.78 0.58 0.8 0.62 0.84 0.64 0.88 0.66 0.9 0.92",
  "2.0 1.6 2.4 1.7 1.5 2.2 1.8 2.5 1.9 2.1 2.6 2.0 2.3 2.8 2.1 2.6 3.0 2.3 2.7 2.5",
  "0.25 0.2 0.3 0.4 0.28 0.35 0.5 0.32 0.45 0.6 0.42 0.55 0.7 0.5 0.62 0.8 0.55 0.7 0.9 0.65",
  "3.5 2.8 3.0 4.2 3.2 2.6 3.6 2.9 3.3 4.5 3.0 3.8 3.2 4.2 3.6 5.0 3.8 4.4 5.5 4.6",
  "0.12 0.2 0.32 0.22 0.15 0.25 0.4 0.28 0.5 0.35 0.25 0.4 0.55 0.38 0.3 0.48 0.35 0.55 0.42 0.5"
];

const unStocks = [
  "1.1 1.4 1.05 1.45 1.1 1.5 1.15 1.55 1.2 1.35 1.5 1.0 1.35 0.95 0.85 1.1 0.8 1.05 0.8 0.95",
  "2.1 2.6 1.9 2.7 2.0 2.8 2.1 2.7 2.0 2.3 2.5 1.7 2.3 1.6 1.5 2.0 1.4 1.9 1.35 1.8",
  "0.55 0.75 0.55 0.78 0.6 0.75 0.62 0.8 0.6 0.82 0.6 0.72 0.52 0.65 0.48 0.56 0.42 0.52 0.4 0.5",
  "3.5 4.3 3.0 4.5 3.2 4.7 3.4 4.5 3.2 3.7 4.1 2.9 3.8 2.7 2.5 3.4 2.3 3.2 2.2 3.0",
  "0.3 0.4 0.24 0.45 0.28 0.43 0.26 0.4 0.24 0.17 0.09 0.04 0.03 0.05 0.1 0.07 0.13 0.08 0.05 0.03",
  "1.6 1.95 1.35 2.0 1.4 2.1 1.5 2.0 1.45 1.7 1.9 1.25 1.7 1.15 1.05 1.45 1.0 1.35 0.95 1.25",
  "0.85 1.05 0.78 1.12 0.82 1.18 0.85 1.12 0.8 0.95 1.08 0.72 0.95 0.66 0.62 0.8 0.58 0.78 0.55 0.72",
  "6.0 7.0 8.5 12 9.0 7.5 8.0 15 10 7.0 6.5 8.0 6.0 5.5 6.5 5.0 5.5 4.8 5.2 4.5",
  "0.12 0.17 0.09 0.22 0.12 0.2 0.09 0.05 0.03 0.04 0.09 0.17 0.1 0.07 0.15 0.09 0.05 0.09 0.07 0.04",
  "2.6 3.2 2.4 3.4 2.5 3.6 2.6 3.4 2.4 2.8 3.1 2.1 2.9 2.0 1.8 2.5 1.75 2.4 1.65 2.3",
  "1.3 1.6 1.2 1.7 1.25 1.75 1.3 1.7 1.25 1.45 1.65 1.1 1.45 1.0 0.92 1.25 0.88 1.2 0.82 1.15",
  "0.45 0.56 0.42 0.62 0.44 0.65 0.46 0.62 0.44 0.5 0.57 0.37 0.5 0.35 0.31 0.43 0.3 0.41 0.28 0.39",
  "4.5 5.6 4.1 5.9 4.3 6.2 4.4 6.0 4.2 4.9 5.4 3.7 5.0 3.5 3.2 4.4 3.1 4.2 2.9 4.0",
  "1.9 2.25 1.65 2.35 1.75 2.5 1.8 2.35 1.7 2.0 2.2 1.5 2.05 1.4 1.25 1.7 1.2 1.6 1.15 1.55",
  "0.7 0.9 0.66 0.92 0.7 0.96 0.72 0.92 0.66 0.8 0.88 0.57 0.8 0.52 0.48 0.66 0.46 0.62 0.44 0.6",
  "1.0 1.25 0.92 1.3 0.98 1.35 1.0 1.32 0.95 1.12 1.25 0.83 1.13 0.77 0.7 0.97 0.68 0.92 0.66 0.9",
  "9.0 10 8.5 11 9.5 12 10 9.0 8.0 7.0 8.5 6.5 7.5 6.0 5.5 6.0 5.2 5.8 5.0 5.5",
  "0.2 0.28 0.19 0.32 0.21 0.34 0.23 0.34 0.22 0.25 0.3 0.17 0.25 0.16 0.13 0.18 0.1 0.16 0.09 0.14",
  "2.3 2.8 2.1 2.9 2.15 3.0 2.2 2.9 2.1 2.5 2.7 1.85 2.5 1.75 1.6 2.15 1.5 2.05 1.4 1.95",
  "1.2 1.5 1.1 1.55 1.15 1.6 1.2 1.56 1.15 1.35 1.5 1.0 1.35 0.92 0.84 1.13 0.8 1.08 0.75 1.02",
  "0.6 0.72 0.55 0.78 0.57 0.8 0.6 0.78 0.56 0.68 0.74 0.48 0.68 0.44 0.4 0.55 0.37 0.51 0.35 0.48",
  "3.0 3.7 2.75 3.9 2.8 4.0 2.9 3.8 2.7 3.2 3.5 2.4 3.3 2.2 2.0 2.7 1.95 2.6 1.85 2.5",
  "1.4 1.7 1.28 1.8 1.32 1.85 1.37 1.8 1.32 1.58 1.75 1.18 1.6 1.1 0.8 0.45 0.18 0.05 0.03 0.03",
  "0.9 1.12 0.84 1.17 0.88 1.22 0.9 1.2 0.86 1.02 1.13 0.75 1.02 0.7 0.63 0.85 0.6 0.82 0.57 0.77",
  "0.38 0.47 0.35 0.5 0.37 0.53 0.39 0.51 0.37 0.43 0.47 0.31 0.43 0.28 0.25 0.34 0.23 0.32 0.22 0.3",
  "1.75 2.15 1.6 2.2 1.65 2.3 1.7 2.2 1.6 1.9 2.1 1.4 1.9 1.32 1.22 1.62 1.15 1.5 1.1 1.45",
  "0.8 0.6 0.95 0.7 0.55 0.9 1.05 0.65 0.85 0.6 0.95 0.7 0.5 0.75 0.55 0.4 0.65 0.45 0.6 0.4",
  "1.5 1.2 1.8 1.3 1.6 2.0 1.4 1.8 1.3 1.9 1.4 1.6 1.2 1.4 1.0 1.3 0.9 1.1 0.95 1.0",
  "0.25 0.35 0.5 0.3 0.4 0.6 0.35 0.5 0.25 0.15 0.3 0.45 0.3 0.2 0.35 0.25 0.15 0.25 0.18 0.12",
  "2.4 1.9 2.2 3.0 2.0 2.6 3.2 2.2 2.9 2.0 2.5 2.1 1.8 2.3 1.6 2.0 1.5 1.9 1.4 1.7",
  "1.2 0.95 1.0 1.3 0.9 1.1 1.4 1.0 1.25 0.95 1.2 0.9 1.1 0.85 0.75 0.9 0.7 0.85 0.65 0.8",
  "0.5 0.65 0.45 0.55 0.75 0.5 0.7 0.55 0.8 0.6 0.5 0.65 0.45 0.4 0.55 0.35 0.45 0.32 0.42 0.3"
];

const policyStocks = [
  "1.05 1.3 0.95 1.4 1.0 1.35 1.0 1.3 0.95 1.4 1.05 1.4 0.95 1.15 0.85 1.1 0.85 1.15 0.85 1.05",
  "2.4 1.9 2.7 2.0 2.9 2.1 2.6 1.8 2.3 1.85 2.3 1.6 2.1 1.55 2.0 1.5 2.0 1.5 1.9 1.4",
  "0.37 0.5 0.42 0.62 0.4 0.6 0.45 0.62 0.48 0.65 0.52 0.7 0.52 0.6 0.45 0.55 0.42 0.58 0.44 0.55",
  "3.8 3.0 4.5 3.2 4.9 3.4 4.2 3.0 3.7 3.0 3.6 2.6 3.4 2.4 3.1 2.4 3.1 2.3 2.9 2.2",
  "0.25 0.17 0.34 0.19 0.13 0.07 0.03 0.04 0.09 0.16 0.1 0.18 0.13 0.09 0.05 0.11 0.07 0.13 0.09 0.06",
  "1.6 1.3 1.9 1.4 2.1 1.45 1.8 1.3 1.7 1.35 1.7 1.25 1.6 1.15 1.5 1.1 1.5 1.1 1.4 1.05",
  "0.8 0.65 0.98 0.7 1.05 0.72 0.98 0.68 0.94 0.74 1.0 0.7 0.88 0.62 0.8 0.62 0.82 0.6 0.76 0.6",
  "5.5 6.5 5.0 7.5 6.0 9.0 7.0 6.0 5.5 6.5 5.8 5.0 5.5 4.8 5.2 4.5 5.0 4.6 4.2 4.4",
  "0.1 0.13 0.07 0.16 0.09 0.05 0.11 0.19 0.12 0.09 0.04 0.03 0.05 0.11 0.08 0.04 0.09 0.05 0.03 0.07",
  "2.8 2.2 3.3 2.4 3.6 2.5 3.1 2.2 2.8 2.2 2.7 1.95 2.6 1.85 2.4 1.85 2.4 1.7 2.2 1.6",
  "1.3 1.1 1.6 1.15 1.65 1.2 1.6 1.15 1.55 1.25 1.65 1.2 1.5 1.0 1.35 0.98 1.4 1.02 1.3 0.98",
  "0.55 0.44 0.68 0.48 0.71 0.51 0.68 0.48 0.66 0.53 0.71 0.49 0.64 0.42 0.53 0.4 0.56 0.39 0.5 0.39",
  "4.6 3.7 5.5 3.9 6.0 4.1 5.2 3.6 4.5 3.7 4.4 3.2 4.2 3.0 3.9 3.0 3.9 2.8 3.6 2.6",
  "1.9 1.6 2.3 1.65 2.4 1.7 2.2 1.6 2.0 1.65 2.1 1.5 1.9 1.35 1.75 1.3 1.8 1.3 1.7 1.25",
  "0.7 0.57 0.83 0.6 0.86 0.62 0.83 0.6 0.8 0.64 0.68 0.35 0.18 0.07 0.03 0.04 0.09 0.18 0.26 0.33",
  "1.0 0.83 1.2 0.88 1.27 0.9 1.2 0.88 1.17 0.95 1.27 0.9 1.12 0.77 0.99 0.74 1.03 0.76 0.97 0.75",
  "8.0 9.5 7.5 10 8.5 12 9.0 8.0 7.0 8.5 7.5 6.8 7.0 6.2 6.5 6.0 6.5 5.8 5.5 5.6",
  "0.3 0.25 0.37 0.26 0.39 0.27 0.37 0.26 0.36 0.29 0.39 0.26 0.32 0.22 0.28 0.2 0.29 0.2 0.25 0.19",
  "2.2 1.75 2.65 1.85 2.75 1.95 2.4 1.7 2.2 1.75 2.2 1.6 2.05 1.5 1.9 1.5 1.9 1.4 1.8 1.3",
  "1.2 1.0 1.43 1.05 1.5 1.07 1.43 1.03 1.38 1.1 1.5 1.05 1.32 0.92 1.17 0.88 1.2 0.88 1.12 0.86",
  "0.65 0.53 0.78 0.56 0.8 0.58 0.78 0.56 0.76 0.61 0.83 0.58 0.73 0.51 0.64 0.48 0.66 0.48 0.6 0.47",
  "3.2 2.55 3.8 2.7 4.0 2.8 3.55 2.55 3.1 2.55 3.1 2.3 2.9 2.1 2.65 2.1 2.65 1.95 2.4 1.75",
  "1.45 1.22 1.72 1.27 1.84 1.3 1.72 1.25 1.67 1.32 1.78 1.27 1.6 1.1 1.38 1.03 1.44 1.05 1.32 0.98",
  "0.9 0.74 1.09 0.79 1.15 0.8 1.09 0.79 1.06 0.84 1.15 0.8 1.01 0.7 0.9 0.66 0.92 0.66 0.85 0.65",
  "0.42 0.35 0.52 0.37 0.55 0.38 0.53 0.37 0.51 0.4 0.55 0.38 0.48 0.33 0.41 0.3 0.43 0.3 0.38 0.3",
  "1.75 1.45 2.07 1.5 2.18 1.55 2.0 1.45 1.84 1.5 1.9 1.36 1.72 1.25 1.59 1.22 1.63 1.2 1.52 1.13",
  "0.6 0.8 0.5 0.7 0.9 0.55 0.75 1.0 0.6 0.85 0.55 0.7 0.45 0.65 0.5 0.4 0.6 0.45 0.55 0.4",
  "1.4 1.1 1.2 1.7 1.2 1.5 1.9 1.3 1.6 1.2 1.7 1.3 1.1 1.45 1.0 1.3 0.95 1.25 1.0 1.15",
  "0.2 0.3 0.45 0.3 0.22 0.4 0.55 0.35 0.25 0.4 0.3 0.5 0.35 0.2 0.3 0.22 0.14 0.25 0.18 0.3",
  "2.6 3.4 2.3 2.8 3.6 2.5 3.1 2.4 2.9 3.5 2.5 2.2 2.9 2.1 2.4 1.9 2.3 2.7 2.0 2.2"
];

// Layout
var w = 1282, h = 1587;
var colX = [115, 503, 893];
var rowY = [34, 548, 1062];
var pw = 365, ph = 449;
var stretch = 1.16; // the figure's lettering is wider than plain Arial
var frameColours = {purple: "#9a3fb2", blue: "#2f74b5", orange: "#c9652a"};

var svg = d3.select("#canvas")
    .append("svg")
    .attr("width", w)
    .attr("height", h)
    .style("background-color", "white");

var x_scale = d3.scaleLinear().domain([-9, 10]).range([0, pw]);
var y_scale = d3.scaleLog().domain([0.05, 20]).range([ph, 0]);

var line = d3.line()
    .x((d, i) => x_scale(years[i]))
    .y(d => y_scale(d));

var parse = list => list.map(s => s.split(" ").map(Number));

var panels = [
    {stocks: rebuildStocks, med: rebuildMedian, up: rebuildUpper, lo: rebuildLower},
    {stocks: surveyStocks, med: surveyMedian, up: surveyUpper, lo: surveyLower},
    {stocks: assessStocks, med: assessMedian, up: assessUpper, lo: assessLower},
    {stocks: hcrStocks, med: hcrMedian, up: hcrUpper, lo: hcrLower},
    {stocks: fleetStocks, med: fleetMedian, up: fleetUpper, lo: fleetLower},
    {stocks: iqStocks, med: iqMedian, up: iqUpper, lo: iqLower},
    {stocks: eezStocks, med: eezMedian, up: eezUpper, lo: eezLower},
    {stocks: unStocks, med: unMedian, up: unUpper, lo: unLower},
    {stocks: policyStocks, med: policyMedian, up: policyUpper, lo: policyLower}
];

var defs = svg.append("defs");

panels.forEach(function(p, i) {
    var col = i % 3, row = Math.floor(i / 3);
    var g = svg.append("g").attr("transform", `translate(${colX[col]},${rowY[row]})`);

    defs.append("clipPath").attr("id", "clip" + i)
        .append("rect").attr("width", pw).attr("height", ph);

    var plot = g.append("g").attr("clip-path", `url(#clip${i})`);

    // faint stock lines, denser panels get a stronger tint
    var alpha = Math.min(0.36, 0.14 + stockCounts[i] / 900);
    plot.selectAll(".stock")
        .data(parse(p.stocks))
        .join("path")
        .attr("class", "stock")
        .attr("d", line)
        .attr("fill", "none")
        .attr("stroke", "#1ee31e")
        .attr("stroke-width", 2.6)
        .attr("stroke-opacity", alpha)
        .attr("stroke-linejoin", "round");

    // reference lines
    plot.append("line")
        .attr("x1", 0).attr("x2", pw)
        .attr("y1", y_scale(1)).attr("y2", y_scale(1))
        .attr("stroke", "#888").attr("stroke-width", 1.8)
        .attr("stroke-dasharray", "7,5");
    plot.append("line")
        .attr("x1", x_scale(0)).attr("x2", x_scale(0))
        .attr("y1", 0).attr("y2", ph)
        .attr("stroke", "#666").attr("stroke-width", 1.6)
        .attr("stroke-dasharray", "2,3");

    // quantiles and median
    [p.up, p.lo].forEach(function(q) {
        plot.append("path")
            .attr("d", line(q))
            .attr("fill", "none")
            .attr("stroke", "#111")
            .attr("stroke-width", 1.8)
            .attr("stroke-dasharray", "9,6");
    });
    plot.append("path")
        .attr("d", line(p.med))
        .attr("fill", "none")
        .attr("stroke", "#000")
        .attr("stroke-width", 3.6)
        .attr("stroke-linejoin", "round");

    // frame
    g.append("rect")
        .attr("width", pw).attr("height", ph)
        .attr("fill", "none")
        .attr("stroke", frameColours[frameGroup[i]])
        .attr("stroke-width", 2.6);

    // title and stock count
    g.append("text")
        .attr("transform", `translate(${pw / 2},-5.5) scale(${stretch},1)`)
        .attr("text-anchor", "middle")
        .style("font-size", "23px")
        .style("fill", "#111")
        .text(titles[i]);
    g.append("text")
        .attr("transform", `translate(9,20) scale(${stretch},1)`)
        .style("font-size", "20.5px")
        .style("font-style", "italic")
        .style("fill", "#111")
        .text(`n = ${stockCounts[i]} stocks`);

    // y axis on the left column
    if (col === 0) {
        var ya = g.append("g")
            .call(d3.axisLeft(y_scale).tickValues(yTicks).tickFormat(d3.format(".2f")).tickSize(7).tickPadding(3));
        ya.select(".domain").remove();
        ya.selectAll(".tick line").attr("stroke", "#555");
        ya.selectAll(".tick text")
            .attr("transform", `scale(${stretch},1)`)
            .style("font-size", "18.5px")
            .style("font-family", "'Liberation Sans', Arial, sans-serif")
            .style("fill", "#222");
    }

    // x axis on the bottom row
    if (row === 2) {
        var xa = g.append("g")
            .attr("transform", `translate(0,${ph})`)
            .call(d3.axisBottom(x_scale).tickValues(xTicks).tickFormat(d => String(d)).tickSize(5).tickPadding(9));
        xa.select(".domain").remove();
        xa.selectAll(".tick line").attr("stroke", "#555");
        xa.selectAll(".tick text")
            .attr("transform", `scale(${stretch},1)`)
            .style("font-size", "19.5px")
            .style("font-family", "'Liberation Sans', Arial, sans-serif")
            .style("fill", "#222");
    }
});

// Axis titles
svg.append("text")
    .attr("transform", `translate(676,1578) scale(${stretch},1)`)
    .attr("text-anchor", "middle")
    .style("font-size", "23.5px")
    .style("fill", "#111")
    .text("Years after implementation");

var yTitle = svg.append("text")
    .attr("transform", "translate(30,745) rotate(-90)")
    .attr("text-anchor", "middle")
    .style("font-size", "26px")
    .style("fill", "#111");
yTitle.append("tspan").text("U/U");
yTitle.append("tspan").attr("dy", 5).style("font-size", "18px").text("REF");

</script>
</body>
</html>
